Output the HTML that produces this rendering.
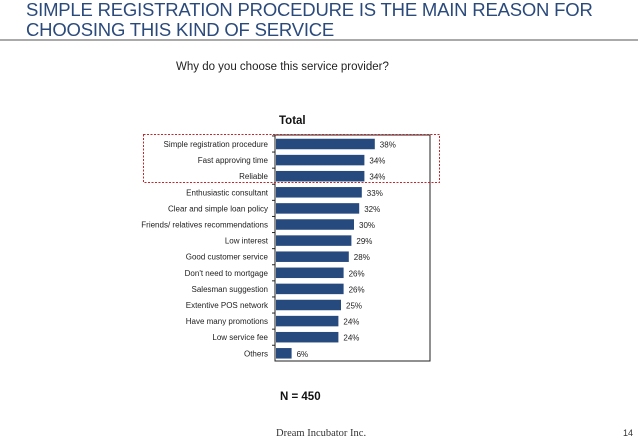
<!DOCTYPE html>
<html><head><meta charset="utf-8"><style>
body{margin:0;width:638px;height:442px;background:#fff;overflow:hidden;font-family:"Liberation Sans",sans-serif}
.t{position:absolute;left:26px;top:0;font-size:18.5px;line-height:20px;color:#2b4a7c;letter-spacing:-0.2px}
</style></head><body>
<div class="t">SIMPLE REGISTRATION PROCEDURE IS THE MAIN REASON FOR<br>CHOOSING THIS KIND OF SERVICE</div>
<div style="position:absolute;left:0;top:39px;width:638px;height:2px;background:#aaa"></div>
<div style="position:absolute;left:176px;top:61px;font-size:11.5px;color:#222">Why do you choose this service provider?</div>
<svg id="c" width="638" height="442" style="position:absolute;left:0;top:0"></svg>
<div style="position:absolute;left:276px;top:428px;font-family:'Liberation Serif',serif;font-size:10.5px;color:#333">Dream Incubator Inc.</div>
<div style="position:absolute;left:623px;top:428px;font-size:9px;color:#333">14</div>
<script>
const categories=["Simple registration procedure","Fast approving time","Reliable","Enthusiastic consultant","Clear and simple loan policy","Friends/ relatives recommendations","Low interest","Good customer service","Don't need to mortgage","Salesman suggestion","Extentive POS network","Have many promotions","Low service fee","Others"];
const values=[38,34,34,33,32,30,29,28,26,26,25,24,24,6];
const NS="http://www.w3.org/2000/svg";
const svg=document.getElementById('c');
const x0=276,top0=136,step=16.1,bh=10.5,sc=2.6;
const xs=v=>x0+v*sc;
const yc=i=>top0+8+i*step;
function mk(t,a){const e=document.createElementNS(NS,t);for(const k in a)e.setAttribute(k,a[k]);svg.appendChild(e);return e;}
let e;
e=mk('rect',{x:275,y:135,width:155,height:226,fill:'none',stroke:'#222','stroke-width':1});


e=mk('text',{x:279,y:124,'font-size':11.5,'font-weight':'bold',fill:'#111'});e.textContent='Total';


categories.forEach((c,i)=>{
 const y=yc(i);
 e=mk('rect',{x:x0,y:y-bh/2,width:xs(values[i])-x0,height:bh,fill:'#264a7e'});
 
 
 e=mk('text',{x:268,y:y+3,'font-size':8,'text-anchor':'end',fill:'#222'});e.textContent=c;
 
 
 e=mk('text',{x:xs(values[i])+5,y:y+3.5,'font-size':8,fill:'#222'});e.textContent=values[i]+'%';
 
 
 e=mk('line',{x1:272,x2:275,y1:y-step/2,y2:y-step/2,stroke:'#222'});
 
 
});
e=mk('rect',{x:143.5,y:134.5,width:296,height:48,fill:'none',stroke:'#c0282d','stroke-width':1,'stroke-dasharray':'2,1.5'});


e=mk('text',{x:280,y:400,'font-size':11.5,'font-weight':'bold',fill:'#111'});e.textContent='N = 450';


</script>
</body></html>
